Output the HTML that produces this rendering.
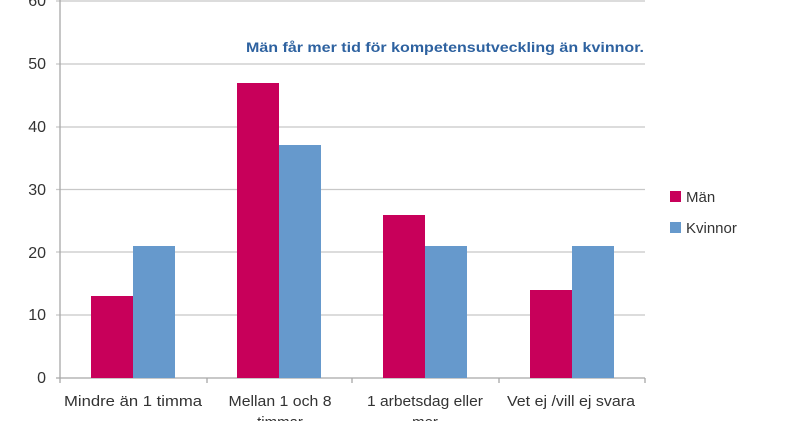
<!DOCTYPE html>
<html><head><style>
body{margin:0;background:#fff;}
svg text{font-family:"Liberation Sans",sans-serif;}
</style></head><body>
<svg width="804" height="421" xmlns="http://www.w3.org/2000/svg">
<rect width="804" height="421" fill="#fff"/>
<g stroke="#c8c8c8" stroke-width="1.3">
<line x1="56" y1="1" x2="645" y2="1"/>
<line x1="56" y1="64" x2="645" y2="64"/>
<line x1="56" y1="127" x2="645" y2="127"/>
<line x1="56" y1="189.5" x2="645" y2="189.5"/>
<line x1="56" y1="252" x2="645" y2="252"/>
<line x1="56" y1="315" x2="645" y2="315"/>
</g>
<g stroke="#a8a8a8" stroke-width="1.3">
<line x1="60" y1="0" x2="60" y2="378"/>
<line x1="56" y1="378" x2="645" y2="378"/>
<line x1="60" y1="378" x2="60" y2="383"/>
<line x1="207" y1="378" x2="207" y2="383"/>
<line x1="352" y1="378" x2="352" y2="383"/>
<line x1="499" y1="378" x2="499" y2="383"/>
<line x1="645" y1="378" x2="645" y2="383"/>
</g>
<g font-size="16" fill="#333" text-anchor="end">
<text x="46" y="6">60</text>
<text x="46" y="69">50</text>
<text x="46" y="132">40</text>
<text x="46" y="195">30</text>
<text x="46" y="258">20</text>
<text x="46" y="320">10</text>
<text x="46" y="383">0</text>
</g>
<g fill="#c8005a">
<rect x="91" y="296" width="42" height="82"/>
<rect x="237" y="83" width="42" height="295"/>
<rect x="383" y="215" width="42" height="163"/>
<rect x="530" y="290" width="42" height="88"/>
</g>
<g fill="#6699cc">
<rect x="133" y="246" width="42" height="132"/>
<rect x="279" y="145" width="42" height="233"/>
<rect x="425" y="246" width="42" height="132"/>
<rect x="572" y="246" width="42" height="132"/>
</g>
<g font-size="15" fill="#333" text-anchor="middle">
<text x="133" y="406" textLength="138" lengthAdjust="spacingAndGlyphs">Mindre än 1 timma</text>
<text x="280" y="406" textLength="103" lengthAdjust="spacingAndGlyphs">Mellan 1 och 8</text>
<text x="280" y="427">timmar</text>
<text x="425" y="406" textLength="116" lengthAdjust="spacingAndGlyphs">1 arbetsdag eller</text>
<text x="425" y="427">mer</text>
<text x="571" y="406" textLength="128" lengthAdjust="spacingAndGlyphs">Vet ej /vill ej svara</text>
</g>
<text x="246" y="52" font-size="14" font-weight="bold" fill="#2e62a0" textLength="398" lengthAdjust="spacingAndGlyphs">Män får mer tid för kompetensutveckling än kvinnor.</text>
<rect x="670" y="191" width="11" height="11" fill="#c8005a"/>
<text x="686" y="202" font-size="15" fill="#333">Män</text>
<rect x="670" y="222" width="11" height="11" fill="#6699cc"/>
<text x="686" y="233" font-size="15" fill="#333">Kvinnor</text>
</svg>
</body></html>
